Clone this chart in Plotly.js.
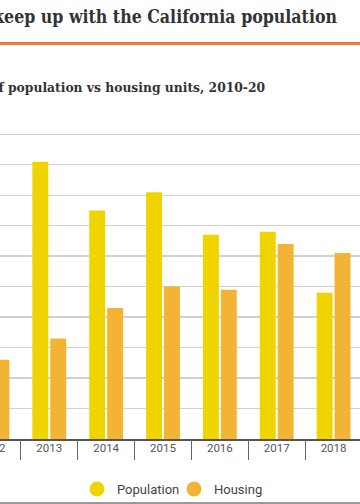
<!DOCTYPE html>
<html>
<head>
<meta charset="utf-8">
<script src="https://cdn.plot.ly/plotly-3.0.1.min.js"></script>
<style>
html,body{margin:0;padding:0;width:360px;height:504px;overflow:hidden;background:#fff;}
#chart{position:absolute;left:-100px;top:0;width:470px;height:504px;}
</style>
</head>
<body>
<div id="chart"></div>
<script>
// Data (annual growth, %)
const years = ['2012', '2013', '2014', '2015', '2016', '2017', '2018'];
const population = [0.80, 0.91, 0.75, 0.81, 0.67, 0.68, 0.48];
const housing = [0.26, 0.33, 0.43, 0.50, 0.49, 0.64, 0.61];
const seriesNames = ['Population', 'Housing'];
const titleText = "Housing didn't keep up with the California population";
const subtitleText = 'Annual growth of population vs housing units, 2010-20';

const OFF = 100, W = 470, H = 504;
const YMAX = 1.05;
const ML = 64, MR = 8, MB = 65;
const PH = Math.round(305 * YMAX), MT = H - MB - PH;
const PW = W - ML - MR;
const px = v => (v + OFF - ML) / PW;        // viewport x -> paper x
const py = v => (H - MB - v) / PH;          // viewport y -> paper y

const YEL = '#F0D400', ORG = '#F3B436';
const SERIF = '"DejaVu Serif Condensed", "DejaVu Serif", serif';

const traces = [
  {type: 'bar', x: years, y: population, name: seriesNames[0], marker: {color: YEL}, showlegend: false, hoverinfo: 'none'},
  {type: 'bar', x: years, y: housing, name: seriesNames[1], marker: {color: ORG}, showlegend: false, hoverinfo: 'none'},
  {type: 'scatter', mode: 'markers', x: [null], y: [null], name: seriesNames[0], marker: {color: YEL, size: 15, symbol: 'circle'}},
  {type: 'scatter', mode: 'markers', x: [null], y: [null], name: seriesNames[1], marker: {color: ORG, size: 15, symbol: 'circle'}},
  {type: 'bar', x: years, y: years.map(() => null), xaxis: 'x2', showlegend: false, hoverinfo: 'none'}
];

const layout = {
  width: W, height: H,
  margin: {l: ML, r: MR, t: MT, b: MB},
  paper_bgcolor: '#fff', plot_bgcolor: '#fff',
  barmode: 'group', bargap: 0.37, bargroupgap: 0.11,
  showlegend: true,
  font: {family: 'Roboto, sans-serif', color: '#555'},
  title: {
    text: '<b>' + titleText + '</b>',
    xref: 'container', yref: 'container',
    x: (337 + OFF) / W, xanchor: 'right',
    y: 1 - 17 / H, yanchor: 'middle',
    font: {family: SERIF, size: 17.6, color: '#333'}
  },
  xaxis: {
    type: 'category', range: [-0.5, years.length - 0.5],
    ticks: '', showgrid: false, showline: true, linecolor: '#555', linewidth: 1.5,
    tickfont: {size: 11.5, color: '#555'}, ticklabelstandoff: -2, fixedrange: true, zeroline: false
  },
  xaxis2: {
    type: 'category', overlaying: 'x', matches: 'x', side: 'bottom',
    tickson: 'boundaries', ticks: 'outside', ticklen: 20, tickcolor: '#666', tickwidth: 1.2,
    showticklabels: false, showgrid: false, showline: false, zeroline: false
  },
  yaxis: {
    range: [0, YMAX], dtick: 0.1, showgrid: true, gridcolor: '#d0d0d0', gridwidth: 1.3,
    zeroline: false, showticklabels: false, ticks: '', fixedrange: true
  },
  legend: {
    orientation: 'h', xref: 'container', yref: 'container',
    x: (174 + OFF) / W, xanchor: 'center', y: 1 - 489 / H, yanchor: 'middle',
    bgcolor: 'rgba(0,0,0,0)', entrywidth: 52,
    font: {size: 13, color: '#444'}, itemclick: false
  },
  annotations: [{
    text: '<b>' + subtitleText + '</b>',
    xref: 'paper', yref: 'paper', x: px(267), xanchor: 'right', y: py(87), yanchor: 'middle',
    showarrow: false, font: {family: SERIF, size: 13.7, color: '#333'}
  }],
  shapes: [
    {type: 'line', xref: 'paper', yref: 'paper', x0: px(-5), x1: px(365), y0: py(43.5), y1: py(43.5),
     line: {color: '#EC7B3A', width: 3}},
    {type: 'line', xref: 'paper', yref: 'paper', x0: px(-5), x1: px(365), y0: py(503), y1: py(503),
     line: {color: '#777', width: 1.5}}
  ]
};

Plotly.newPlot('chart', traces, layout, {displayModeBar: false, staticPlot: true});
</script>
</body>
</html>
